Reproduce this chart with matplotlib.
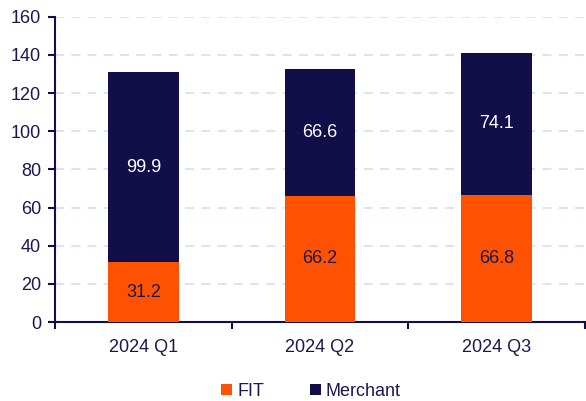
import numpy as np
import matplotlib.pyplot as plt

plt.rcParams['font.family'] = ['Liberation Sans', 'DejaVu Sans']

quarters = ['2024 Q1', '2024 Q2', '2024 Q3']
fit = [31.2, 66.2, 66.8]
merchant = [99.9, 66.6, 74.1]

navy = '#110e4a'
orange = '#ff5200'
text_col = '#1a1850'
fs = 13

fig = plt.figure(figsize=(5.86, 4.01), dpi=100)
ax = fig.add_axes([0.094, 0.197, 0.904, 0.761])

x = np.arange(len(quarters))
ax.bar(x, fit, width=0.4, color=orange, label='FIT', zorder=3)
ax.bar(x, merchant, width=0.4, bottom=fit, color=navy, label='Merchant', zorder=3)

for i in range(len(quarters)):
    ax.text(x[i], fit[i] / 2, f'{fit[i]:.1f}', ha='center', va='center',
            fontsize=fs, color=text_col, zorder=4)
    ax.text(x[i], fit[i] + merchant[i] / 2, f'{merchant[i]:.1f}', ha='center', va='center',
            fontsize=fs, color='white', zorder=4)

ax.set_xlim(-0.5, 2.5)
ax.set_ylim(0, 160)
ax.set_yticks(np.arange(0, 161, 20))
ax.set_xticks(x)
ax.set_xticklabels(quarters)
ax.set_xticks(np.arange(-0.5, 2.6, 1), minor=True)
ax.tick_params(axis='x', which='major', length=0, pad=12, labelsize=fs, labelcolor=text_col)
ax.tick_params(axis='x', which='minor', length=5, width=1.5, color=navy, direction='out')
ax.tick_params(axis='y', length=5, width=1.5, color=navy, labelsize=fs, labelcolor=text_col, pad=5)

ax.yaxis.grid(True, linestyle=(0, (5, 4)), color='#d8e2f6', linewidth=1.3, zorder=0)
ax.set_axisbelow(True)
for s in ['top', 'right']:
    ax.spines[s].set_visible(False)
for s in ['left', 'bottom']:
    ax.spines[s].set_color(navy)
    ax.spines[s].set_linewidth(1.5)

fig.legend(loc='lower center', bbox_to_anchor=(0.531, -0.038), ncol=2, frameon=False,
           fontsize=fs, handlelength=0.6, handleheight=0.6, handletextpad=0.3,
           columnspacing=2.5, labelcolor=text_col)

fig.savefig('out.png', dpi=100)
